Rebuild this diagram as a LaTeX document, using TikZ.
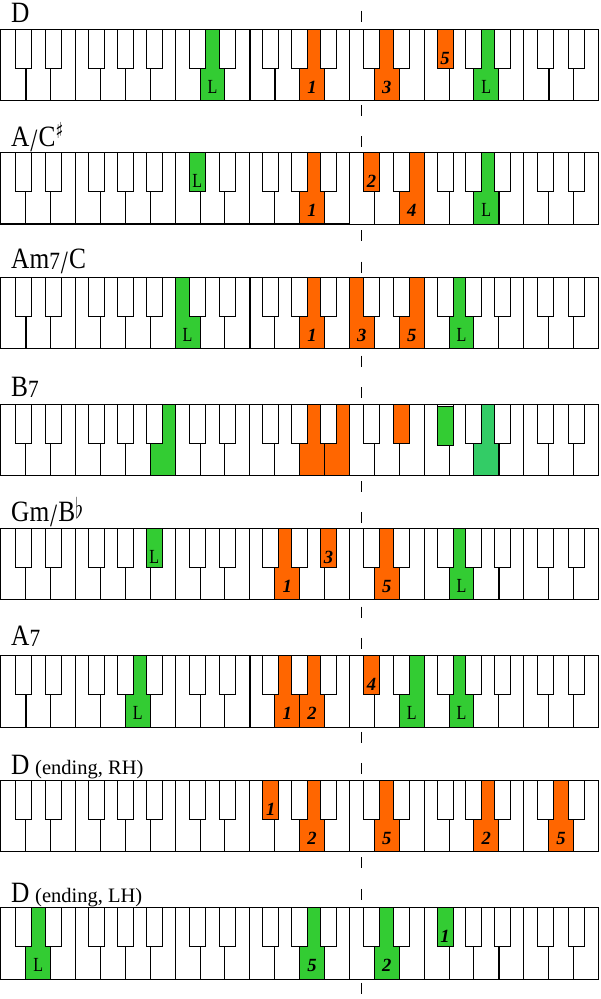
\documentclass[tikz,border=0pt]{standalone}
\usepackage{fontspec}
\setmainfont{Liberation Serif}
\newfontfamily\dvsfont{DejaVu Sans}
\usepackage{graphicx}
\definecolor{korange}{HTML}{FF6600}
\definecolor{kgreen}{HTML}{33CC33}
\definecolor{klight}{HTML}{33CC66}
\def\xo{0.8}
\def\ww{24.9}
\def\hw{71.5}
\def\hb{39}
\def\bw{16}
\def\blist{1/-2.7,2/2.5,4/-4,5/0,6/4,8/-2.7,9/2.5,11/-4,12/0,13/4,15/-2.7,16/2.5,18/-4,19/0,20/4,22/-2.7,23/2.5}
\newcommand\fg[1]{{\fontsize{18.6}{18.6}\selectfont\bfseries\itshape #1}}
\newcommand\Lk{{\fontsize{20}{20}\selectfont\scalebox{0.8}[1]{L}}}
\newcommand\sev{\raisebox{-1.5pt}{\scalebox{0.84}{7}}}
\newcommand\slsh{\kern1pt\raisebox{-5pt}{\scalebox{1}[1.1]{/}}\kern1.5pt}
\newcommand\shrp{\raisebox{8.5pt}{\scalebox{0.85}[1]{\dvsfont\fontsize{22}{22}\selectfont ♯}}}
\newcommand\flt{\raisebox{3.7pt}{\scalebox{2.3}[2.84]{\fontsize{10}{10}\selectfont$\flat$}}}
\newcommand\ttl[1]{\scalebox{0.86}[1]{#1}}
\newcommand\whites{\foreach \k in {0,...,23}{\draw[keyline,fill=white] ({\xo+\k*\ww},0) rectangle ++(\ww,\hw);}}
\newcommand\blacks{\foreach \k/\bo in \blist {\draw[keyline,fill=white] ({\xo+\k*\ww+(\bo)-\bw/2},0) rectangle ++(\bw,\hb);}}
\newcommand\whl[3]{\draw[keyline,fill=#2] ({\xo+#1*\ww},0) rectangle ++(\ww,\hw);
  \node[lab] (\kbn w#1) at ({\xo+(#1+0.5)*\ww},64) {#3};}
\newcommand\whn[2]{\draw[keyline,fill=#2] ({\xo+#1*\ww},0) rectangle ++(\ww,\hw);}
\newcommand\bhl[4]{\draw[keyline,fill=#3] ({\xo+#1*\ww+(#2)-\bw/2},0) rectangle ++(\bw,\hb);
  \node[lab] (\kbn b#1) at ({\xo+#1*\ww+(#2)},34.7) {#4};}
\newcommand\bhn[4]{\draw[keyline,fill=#3] ({\xo+#1*\ww+(#2)-\bw/2},#4) rectangle ++(\bw,\hb);}
\newcommand\hvl[1]{\draw[heavy] ({\xo+#1*\ww},\hb) -- ({\xo+#1*\ww},\hw);}
\newcommand\hvf[1]{\draw[heavy] ({\xo+#1*\ww},0) -- ({\xo+#1*\ww},\hw);}
\begin{document}
\begin{tikzpicture}[x=1pt,y=-1pt,
  keyline/.style={draw=black,line width=1pt},
  heavy/.style={draw=black,line width=1.8pt},
  lab/.style={inner sep=0pt,anchor=base},
  ttlnode/.style={inner sep=0pt,anchor=base west,font=\fontsize{29.5}{30}\selectfont},
  subnode/.style={inner sep=0pt,anchor=base west,font=\fontsize{20.5}{21}\selectfont}]
\fill[white] (0,0) rectangle (600,999);
\useasboundingbox (0,0) rectangle (600,999);
% dashed middle line
\coordinate (dtop) at (361.5,10.7);
\coordinate (dbot) at (361.5,999);
\draw[dash pattern=on 11pt off 20.36pt,line width=1pt] (dtop) -- (dbot);
% titles
\node[ttlnode] (t1) at (11,22) {\ttl{D}};
\node[ttlnode] (t2) at (11,146.7) {\ttl{A\slsh C\shrp}};
\node[ttlnode] (t3) at (11,268.3) {\ttl{Am\sev\slsh C}};
\node[ttlnode] (t4) at (11,396) {\ttl{B\sev}};
\node[ttlnode] (t5) at (11,521.7) {\ttl{Gm\slsh B\flt}};
\node[ttlnode] (t6) at (11,645) {\ttl{A\sev}};
\node[ttlnode] (t7) at (11,774) {\ttl{D}};
\node[subnode] (s7) at (35,774) {(ending, RH)};
\node[ttlnode] (t8) at (11,902.3) {\ttl{D}};
\node[subnode] (s8) at (35,902.3) {(ending, LH)};
% K1 D
\begin{scope}[shift={(0,29.3)}]\def\kbn{k1}
 \whites
 \whl{8}{kgreen}{\Lk}
 \whl{12}{korange}{\fg{1}}
 \whl{15}{korange}{\fg{3}}
 \whl{19}{kgreen}{\Lk}
 \blacks
 \bhl{18}{-4}{korange}{\fg{5}}
 \hvl{1}\hvf{10}\hvl{11}\hvl{22}
\end{scope}
% K2 A/C#
\begin{scope}[shift={(0,152.5)}]\def\kbn{k2}
 \whites
 \whl{12}{korange}{\fg{1}}
 \whl{16}{korange}{\fg{4}}
 \whl{19}{kgreen}{\Lk}
 \blacks
 \bhl{8}{-2.7}{kgreen}{\Lk}
 \bhl{15}{-2.7}{korange}{\fg{2}}
 \draw[heavy] (\xo,\hw) -- ({\xo+14*\ww},\hw);
 \hvl{20}
\end{scope}
% K3 Am7/C
\begin{scope}[shift={(0,277.3)}]\def\kbn{k3}
 \whites
 \whl{7}{kgreen}{\Lk}
 \whl{12}{korange}{\fg{1}}
 \whl{14}{korange}{\fg{3}}
 \whl{16}{korange}{\fg{5}}
 \whl{18}{kgreen}{\Lk}
 \blacks
 \hvl{1}\hvf{10}
\end{scope}
% K4 B7
\begin{scope}[shift={(0,404.2)}]\def\kbn{k4}
 \whites
 \whn{6}{kgreen}
 \whn{12}{korange}
 \whn{13}{korange}
 \whn{19}{klight}
 \blacks
 \bhn{16}{2.5}{korange}{0}
 \bhn{18}{-4}{kgreen}{2}
 \hvl{20}
\end{scope}
% K5 Gm/Bb
\begin{scope}[shift={(0,528.3)}]\def\kbn{k5}
 \whites
 \whl{11}{korange}{\fg{1}}
 \whl{15}{korange}{\fg{5}}
 \whl{18}{kgreen}{\Lk}
 \blacks
 \bhl{6}{4}{kgreen}{\Lk}
 \bhl{13}{4}{korange}{\fg{3}}
 \hvl{20}
\end{scope}
% K6 A7
\begin{scope}[shift={(0,655.7)}]\def\kbn{k6}
 \whites
 \whl{5}{kgreen}{\Lk}
 \whl{11}{korange}{\fg{1}}
 \whl{12}{korange}{\fg{2}}
 \whl{16}{kgreen}{\Lk}
 \whl{18}{kgreen}{\Lk}
 \blacks
 \bhl{15}{-2.7}{korange}{\fg{4}}
 \hvl{1}\hvf{10}
\end{scope}
% K7 D ending RH
\begin{scope}[shift={(0,780.3)}]\def\kbn{k7}
 \whites
 \whl{12}{korange}{\fg{2}}
 \whl{15}{korange}{\fg{5}}
 \whl{19}{korange}{\fg{2}}
 \whl{22}{korange}{\fg{5}}
 \blacks
 \bhl{11}{-4}{korange}{\fg{1}}
\end{scope}
% K8 D ending LH
\begin{scope}[shift={(0,907.8)}]\def\kbn{k8}
 \whites
 \whl{1}{kgreen}{\Lk}
 \whl{12}{kgreen}{\fg{5}}
 \whl{15}{kgreen}{\fg{2}}
 \blacks
 \bhl{18}{-4}{kgreen}{\fg{1}}
 \hvl{20}
\end{scope}
\end{tikzpicture}
\end{document}
